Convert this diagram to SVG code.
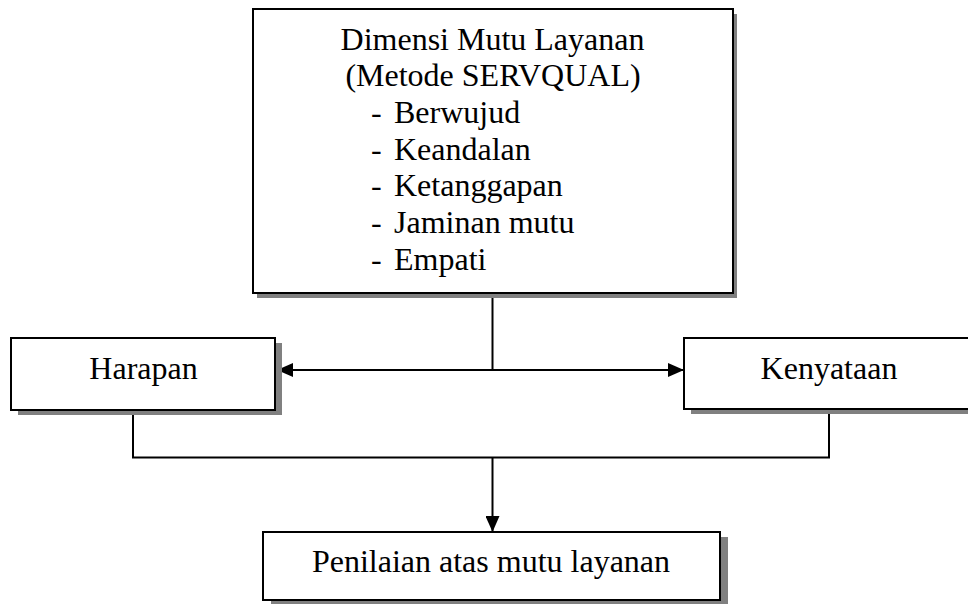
<svg xmlns="http://www.w3.org/2000/svg" width="968" height="604" viewBox="0 0 968 604">
<style>
.box{fill:#fff;stroke:#000;stroke-width:2}
.shadow{fill:#808080;stroke:none}
.t{font-family:"Liberation Serif","Times New Roman",serif;font-size:32px;fill:#000}
.c{text-anchor:middle}
.conn{fill:none;stroke:#000;stroke-width:2}
</style>
<defs>
<marker id="arr" viewBox="0 0 16 14" refX="16" refY="7" markerWidth="16" markerHeight="14" markerUnits="userSpaceOnUse" orient="auto-start-reverse">
<path d="M0,0 L16,7 L0,14 Z" fill="#000"/>
</marker>
</defs>
<rect width="968" height="604" fill="#fff"/>
<g id="connectors">
<path class="conn" d="M492.5,293 V370"/>
<path class="conn" d="M277,370 H684" marker-start="url(#arr)" marker-end="url(#arr)"/>
<path class="conn" d="M133,410 V457.5 H829 V409"/>
<path class="conn" d="M492.5,457.5 V532" marker-end="url(#arr)"/>
</g>
<g id="dimensi">
<rect class="shadow" x="257" y="14" width="480" height="284"/>
<rect class="box" x="253" y="9" width="480" height="284"/>
<text class="t c" x="492.5" y="49.5">Dimensi Mutu Layanan</text>
<text class="t c" x="493" y="86.2">(Metode SERVQUAL)</text>
<text class="t" x="371" y="122.9">-</text><text class="t" x="394" y="122.9">Berwujud</text>
<text class="t" x="371" y="159.6">-</text><text class="t" x="394" y="159.6">Keandalan</text>
<text class="t" x="371" y="196.3">-</text><text class="t" x="394" y="196.3">Ketanggapan</text>
<text class="t" x="371" y="233">-</text><text class="t" x="394" y="233">Jaminan mutu</text>
<text class="t" x="371" y="269.7">-</text><text class="t" x="394" y="269.7">Empati</text>
</g>
<g id="harapan">
<rect class="shadow" x="18" y="343" width="264" height="72"/>
<rect class="box" x="11" y="338" width="264" height="72"/>
<text class="t c" x="143.5" y="379">Harapan</text>
</g>
<g id="kenyataan">
<rect class="shadow" x="691" y="343" width="300" height="71"/>
<rect class="box" x="684" y="338" width="300" height="71"/>
<text class="t c" x="829" y="379">Kenyataan</text>
</g>
<g id="penilaian">
<rect class="shadow" x="271" y="537" width="457" height="68"/>
<rect class="box" x="263" y="532" width="457" height="68"/>
<text class="t c" x="491" y="572">Penilaian atas mutu layanan</text>
</g>
</svg>
